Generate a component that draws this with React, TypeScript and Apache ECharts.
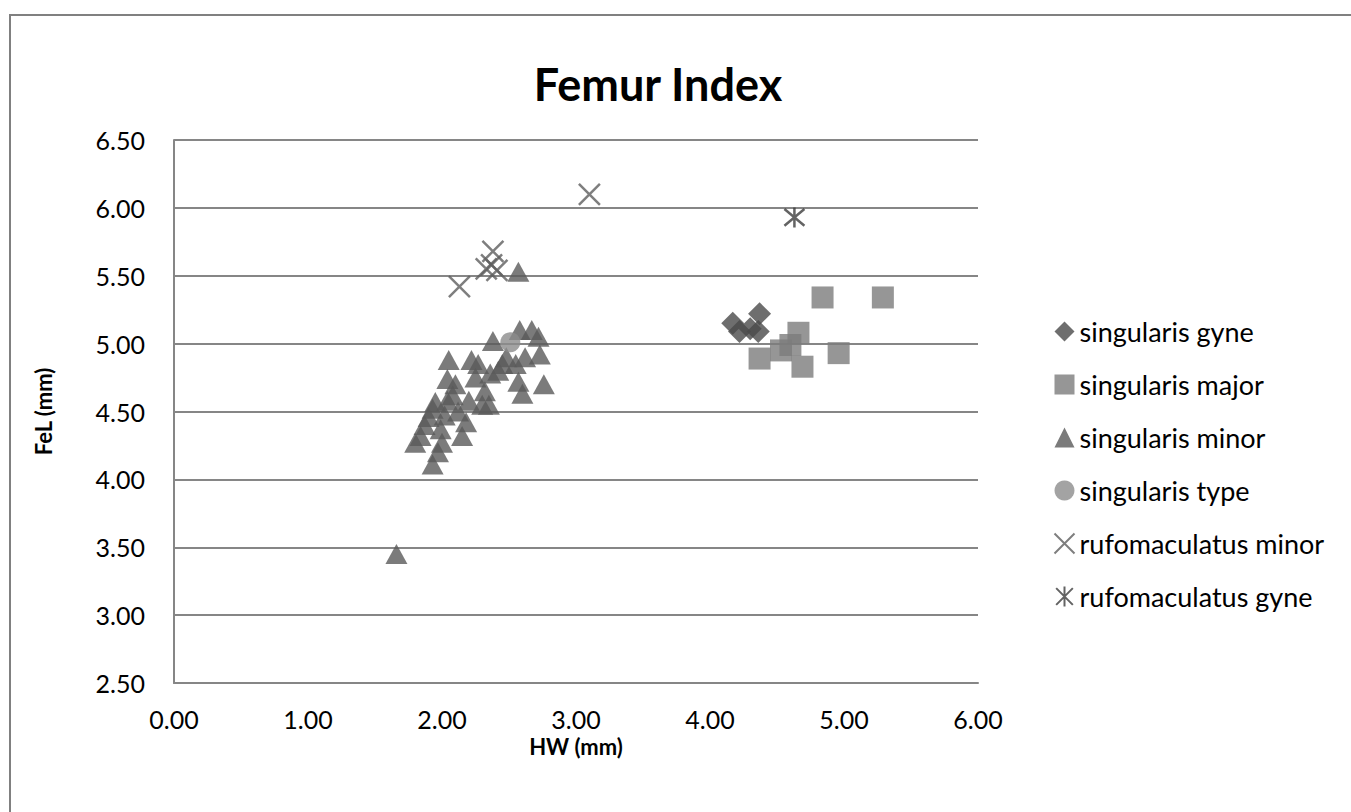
import React, { useEffect, useRef } from "react";
import * as echarts from "echarts";

const titleText = "Femur Index";
const xName = "HW (mm)";
const yName = "FeL (mm)";

const seriesNames = [
  "singularis gyne",
  "singularis major",
  "singularis minor",
  "singularis type",
  "rufomaculatus minor",
  "rufomaculatus gyne",
];

const singularisGyne = [
  [4.17, 5.15],
  [4.22, 5.09],
  [4.30, 5.11],
  [4.37, 5.22],
  [4.36, 5.09],
];

const singularisMajor = [
  [4.37, 4.89],
  [4.53, 4.95],
  [4.60, 4.99],
  [4.66, 5.08],
  [4.69, 4.83],
  [4.84, 5.34],
  [4.96, 4.93],
  [5.29, 5.34],
];

const singularisMinor = [
  [1.66, 3.45],
  [1.80, 4.27],
  [1.84, 4.32],
  [1.87, 4.40],
  [1.90, 4.46],
  [1.93, 4.52],
  [1.95, 4.57],
  [1.93, 4.11],
  [1.97, 4.20],
  [2.00, 4.27],
  [1.99, 4.37],
  [2.02, 4.47],
  [2.04, 4.58],
  [2.04, 4.74],
  [2.05, 4.88],
  [2.08, 4.62],
  [2.10, 4.70],
  [2.12, 4.50],
  [2.15, 4.32],
  [2.18, 4.42],
  [2.20, 4.58],
  [2.22, 4.88],
  [2.25, 4.75],
  [2.27, 4.85],
  [2.30, 4.55],
  [2.32, 4.65],
  [2.35, 4.55],
  [2.36, 4.78],
  [2.38, 5.02],
  [2.42, 4.80],
  [2.45, 4.85],
  [2.48, 4.90],
  [2.55, 4.85],
  [2.57, 4.72],
  [2.58, 5.10],
  [2.60, 4.63],
  [2.62, 4.90],
  [2.67, 5.10],
  [2.72, 5.05],
  [2.73, 4.92],
  [2.76, 4.70],
  [2.57, 5.53],
];

const singularisType = [[2.51, 5.01]];

const rufomaculatusMinor = [
  [2.13, 5.42],
  [2.33, 5.55],
  [2.37, 5.58],
  [2.41, 5.54],
  [2.38, 5.68],
  [3.10, 6.10],
];

const rufomaculatusGyne = [[4.63, 5.93]];

const FONT = "Lato";

export default function App() {
  const ref = useRef<HTMLDivElement>(null);

  useEffect(() => {
    if (!ref.current) return;
    const chart = echarts.init(ref.current, null, { renderer: "svg" });
    const crossPath = "path://M0,0L10,10M10,0L0,10";
    const starPath = "path://M0,0L10,10M10,0L0,10M5,-1L5,11";
    chart.setOption({
      animation: false,
      backgroundColor: "#ffffff",
      title: {
        text: titleText,
        left: 653,
        textAlign: "center",
        top: 56,
        textStyle: {
          fontFamily: FONT,
          fontWeight: "bold",
          fontSize: 45,
          color: "#000",
        },
      },
      graphic: [
        {
          type: "rect",
          shape: { x: 10, y: 15, width: 1360, height: 820 },
          style: { fill: "none", stroke: "#808080", lineWidth: 2 },
          silent: true,
        },
      ],
      legend: {
        orient: "vertical",
        left: 1047,
        top: 313,
        itemWidth: 20,
        itemHeight: 20,
        itemGap: 26,
        textStyle: {
          fontFamily: FONT,
          fontSize: 27,
          color: "#000",
          lineHeight: 27,
        },
        data: seriesNames,
      },
      grid: { left: 174, right: 373, top: 140, bottom: 129 },
      xAxis: {
        type: "value",
        min: 0,
        max: 6,
        interval: 1,
        name: xName,
        nameLocation: "middle",
        nameGap: 48,
        nameTextStyle: {
          fontFamily: FONT,
          fontWeight: "bold",
          fontSize: 22,
          color: "#000",
        },
        axisLine: { show: true, lineStyle: { color: "#868686", width: 2 } },
        axisTick: { show: false },
        splitLine: { show: false },
        axisLabel: {
          margin: 23,
          fontFamily: FONT,
          fontSize: 25,
          color: "#000",
          formatter: (v: number) => v.toFixed(2),
        },
      },
      yAxis: {
        type: "value",
        min: 2.5,
        max: 6.5,
        interval: 0.5,
        name: yName,
        nameLocation: "middle",
        nameGap: 120,
        nameTextStyle: {
          fontFamily: FONT,
          fontWeight: "bold",
          fontSize: 22,
          color: "#000",
        },
        axisLine: { show: true, lineStyle: { color: "#868686", width: 2 } },
        axisTick: { show: false },
        splitLine: { show: true, lineStyle: { color: "#868686", width: 2 } },
        axisLabel: {
          margin: 29,
          fontFamily: FONT,
          fontSize: 25,
          color: "#000",
          formatter: (v: number) => v.toFixed(2),
        },
      },
      series: [
        {
          name: seriesNames[0],
          type: "scatter",
          symbol: "diamond",
          symbolSize: 23,
          itemStyle: { color: "#4a4a4a" },
          data: singularisGyne,
        },
        {
          name: seriesNames[1],
          type: "scatter",
          symbol: "rect",
          symbolSize: 22,
          itemStyle: { color: "#7c7c7c" },
          data: singularisMajor,
        },
        {
          name: seriesNames[2],
          type: "scatter",
          symbol: "triangle",
          symbolSize: [22, 20],
          itemStyle: { color: "#5a5a5a" },
          data: singularisMinor,
        },
        {
          name: seriesNames[3],
          type: "scatter",
          symbol: "circle",
          symbolSize: 20,
          itemStyle: { color: "#8c8c8c" },
          data: singularisType,
        },
        {
          name: seriesNames[4],
          type: "scatter",
          symbol: crossPath,
          symbolSize: 21,
          itemStyle: { color: "none", borderColor: "#5e5e5e", borderWidth: 2.5 },
          data: rufomaculatusMinor,
        },
        {
          name: seriesNames[5],
          type: "scatter",
          symbol: starPath,
          symbolSize: 20,
          itemStyle: { color: "none", borderColor: "#3c3c3c", borderWidth: 2.5 },
          data: rufomaculatusGyne,
        },
      ],
    });
    return () => chart.dispose();
  }, []);

  return (
    <div
      ref={ref}
      style={{ position: "fixed", left: 0, top: 0, width: 1351, height: 812 }}
    />
  );
}
